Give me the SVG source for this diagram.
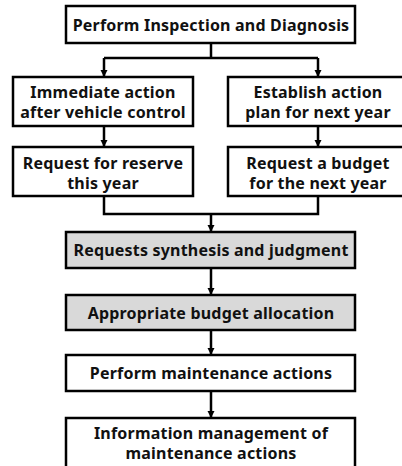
<svg xmlns="http://www.w3.org/2000/svg" width="402" height="466" viewBox="0 0 402 466">
<style>
.box{fill:#fff;stroke:#000;stroke-width:2.5}
.gray{fill:#d9d9d9;stroke:#000;stroke-width:2.5}
.t{font-family:"Noto Sans","DejaVu Sans",sans-serif;font-weight:bold;font-size:16px;letter-spacing:0.2px;fill:#111;text-anchor:middle;dominant-baseline:central}
.c{fill:none;stroke:#000;stroke-width:2.5}
</style>
<defs>
<marker id="ah" viewBox="0 0 10 10" refX="10" refY="5" markerWidth="3" markerHeight="3" orient="auto" markerUnits="strokeWidth">
<path d="M0,0 L10,5 L0,10 Z" fill="#000"/>
</marker>
</defs>
<rect width="402" height="466" fill="#fff"/>
<g id="connectors">
<path class="c" d="M211,43 V58"/>
<path class="c" d="M104,58 H318"/>
<path class="c" d="M104,58 V77" marker-end="url(#ah)"/>
<path class="c" d="M318,58 V77" marker-end="url(#ah)"/>
<path class="c" d="M104,126 V147" marker-end="url(#ah)"/>
<path class="c" d="M318,126 V147" marker-end="url(#ah)"/>
<path class="c" d="M104,196 V214 H318 V196"/>
<path class="c" d="M211,214 V232" marker-end="url(#ah)"/>
<path class="c" d="M211,268 V295" marker-end="url(#ah)"/>
<path class="c" d="M211,330 V355" marker-end="url(#ah)"/>
<path class="c" d="M211,391 V418" marker-end="url(#ah)"/>
</g>
<g id="n1"><rect class="box" x="66" y="6" width="289" height="37"/><text class="t" x="211" y="25">Perform Inspection and Diagnosis</text></g>
<g id="n2"><rect class="box" x="13" y="77" width="180" height="49"/><text class="t" x="103" y="92">Immediate action</text><text class="t" x="103" y="112">after vehicle control</text></g>
<g id="n3"><rect class="box" x="228" y="77" width="181" height="49"/><text class="t" x="318" y="92">Establish action</text><text class="t" x="318" y="112">plan for next year</text></g>
<g id="n4"><rect class="box" x="13" y="147" width="180" height="49"/><text class="t" x="103" y="163">Request for reserve</text><text class="t" x="103" y="183">this year</text></g>
<g id="n5"><rect class="box" x="228" y="147" width="181" height="49"/><text class="t" x="318" y="163">Request a budget</text><text class="t" x="318" y="183">for the next year</text></g>
<g id="n6"><rect class="gray" x="66" y="232" width="289" height="36"/><text class="t" x="211" y="250">Requests synthesis and judgment</text></g>
<g id="n7"><rect class="gray" x="66" y="295" width="289" height="35"/><text class="t" x="211" y="313">Appropriate budget allocation</text></g>
<g id="n8"><rect class="box" x="66" y="355" width="289" height="36"/><text class="t" x="211" y="373">Perform maintenance actions</text></g>
<g id="n9"><rect class="box" x="66" y="418" width="289" height="52"/><text class="t" x="211" y="433">Information management of</text><text class="t" x="211" y="453">maintenance actions</text></g>
</svg>
